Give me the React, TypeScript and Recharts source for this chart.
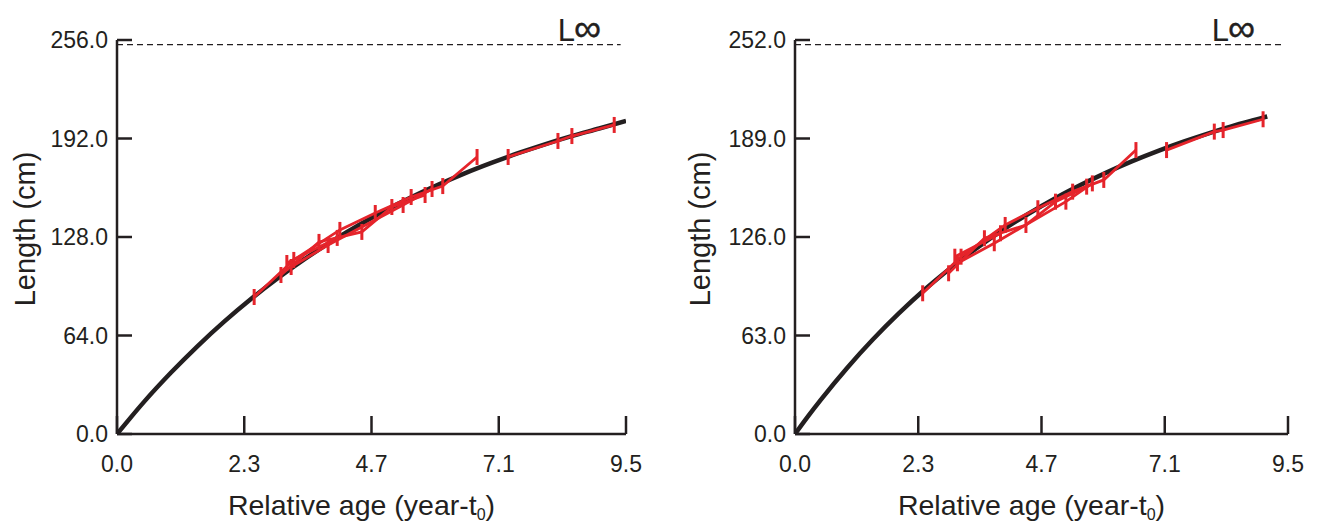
import { LineChart, Line, XAxis, YAxis, ReferenceLine } from 'recharts';

const INK = '#231f20';
const RED = '#e5242b';
const FONT = '"Liberation Sans", Arial, sans-serif';

// shared x axis
const xTicks = [0, 2.375, 4.75, 7.125, 9.5];
const xTickLabels = ['0.0', '2.3', '4.7', '7.1', '9.5'];

// left panel
const leftYTicks = [0, 64, 128, 192, 256];
const leftLinf = 253;
const leftCurve = [
  { t: 0, L: 0 }, { t: 0.25, L: 10.5 }, { t: 0.5, L: 20.7 }, { t: 1, L: 39.6 },
  { t: 1.5, L: 57.0 }, { t: 2, L: 73.0 }, { t: 2.5, L: 87.7 }, { t: 3, L: 101.2 },
  { t: 3.5, L: 113.6 }, { t: 4, L: 125.0 }, { t: 4.5, L: 135.5 }, { t: 5, L: 145.1 },
  { t: 5.5, L: 153.9 }, { t: 6, L: 162.0 }, { t: 6.5, L: 169.5 }, { t: 7, L: 176.3 },
  { t: 7.5, L: 182.6 }, { t: 8, L: 188.4 }, { t: 8.5, L: 193.7 }, { t: 9, L: 198.5 },
  { t: 9.5, L: 203.5 },
];
const leftFish1 = [
  { t: 2.56, L: 89.0 }, { t: 3.3, L: 113.1 }, { t: 4.16, L: 132.6 }, { t: 4.82, L: 143.6 },
  { t: 5.49, L: 154.0 }, { t: 6.08, L: 161.1 }, { t: 6.72, L: 180.0 },
];
const leftFish2 = [
  { t: 3.06, L: 103.3 }, { t: 3.77, L: 124.8 }, { t: 4.57, L: 131.3 }, { t: 5.13, L: 147.5 },
  { t: 5.75, L: 155.3 },
];
const leftFish3 = [
  { t: 3.25, L: 108.5 }, { t: 3.94, L: 122.8 }, { t: 5.34, L: 148.8 }, { t: 5.88, L: 159.2 },
];
const leftFish4 = [{ t: 3.17, L: 111.1 }, { t: 4.11, L: 127.4 }];
const leftFish5 = [
  { t: 7.3, L: 180.0 }, { t: 8.23, L: 190.4 }, { t: 8.49, L: 193.6 }, { t: 9.28, L: 200.8 },
];

// right panel
const rightYTicks = [0, 63, 126, 189, 252];
const rightLinf = 249;
const rightCurve = [
  { t: 0, L: 0 }, { t: 0.25, L: 11.3 }, { t: 0.5, L: 22.0 }, { t: 1, L: 42.1 },
  { t: 1.5, L: 60.4 }, { t: 2, L: 77.1 }, { t: 2.5, L: 92.4 }, { t: 3, L: 106.2 },
  { t: 3.5, L: 118.9 }, { t: 4, L: 130.4 }, { t: 4.5, L: 140.9 }, { t: 5, L: 150.5 },
  { t: 5.5, L: 159.2 }, { t: 6, L: 167.2 }, { t: 6.5, L: 174.5 }, { t: 7, L: 181.1 },
  { t: 7.5, L: 187.1 }, { t: 8, L: 192.6 }, { t: 8.5, L: 197.7 }, { t: 9, L: 202.2 },
  { t: 9.1, L: 203.1 },
];
const rightFish1 = [
  { t: 2.46, L: 90.0 }, { t: 3.2, L: 113.4 }, { t: 4.05, L: 133.7 }, { t: 4.68, L: 144.4 },
  { t: 5.35, L: 155.0 }, { t: 5.95, L: 162.5 }, { t: 6.57, L: 181.6 },
];
const rightFish2 = [
  { t: 2.96, L: 102.8 }, { t: 3.65, L: 125.2 }, { t: 4.45, L: 133.7 }, { t: 5.02, L: 148.6 },
  { t: 5.62, L: 158.2 },
];
const rightFish3 = [
  { t: 3.13, L: 109.2 }, { t: 3.84, L: 122.0 }, { t: 5.22, L: 148.6 }, { t: 5.73, L: 160.3 },
];
const rightFish4 = [{ t: 3.08, L: 113.4 }, { t: 3.96, L: 128.4 }];
const rightFish5 = [
  { t: 7.16, L: 181.6 }, { t: 8.08, L: 193.4 }, { t: 8.25, L: 194.4 }, { t: 9.02, L: 201.3 },
];

function RedTick(props: any) {
  const { cx, cy } = props;
  if (cx == null || cy == null) return null;
  return <line x1={cx} x2={cx} y1={cy - 8} y2={cy + 8} stroke={RED} strokeWidth={3} />;
}

function XTitle({ viewBox }: any) {
  const x = viewBox.x + viewBox.width / 2 - 10;
  return (
    <text x={x} y={viewBox.y + 81} textAnchor="middle" fontFamily={FONT} fontSize={28.5} fill={INK}>
      Relative age (year-t<tspan fontSize={16} dy={5}>0</tspan>
      <tspan dy={-5}>)</tspan>
    </text>
  );
}

function YTitle({ viewBox, titleX }: any) {
  const x = viewBox.x + titleX;
  const y = 229;
  return (
    <text x={x} y={y} transform={`rotate(-90, ${x}, ${y})`} textAnchor="middle"
      dominantBaseline="central" fontFamily={FONT} fontSize={29} fill={INK}>
      Length (cm)
    </text>
  );
}

function LinfLabel({ viewBox, back }: any) {
  const x = viewBox.x + viewBox.width - back;
  return (
    <text x={x} y={viewBox.y - 4} fontFamily={FONT} fill={INK}>
      <tspan fontSize={31}>L</tspan>
      <tspan fontSize={38} dx={-1} stroke={INK} strokeWidth={0.4}>∞</tspan>
    </text>
  );
}

function GrowthPanel({ curve, fish, yTicks, linf, yWidth, rightMargin, titleX, linfBack }: any) {
  const yMax = yTicks[yTicks.length - 1];
  return (
    <LineChart width={660} height={522} margin={{ top: 40, right: rightMargin, bottom: 0, left: 0 }}>
      <XAxis
        type="number"
        dataKey="t"
        domain={[0, 9.5]}
        ticks={xTicks}
        interval={0}
        allowDataOverflow
        tickFormatter={(v: number) => xTickLabels[xTicks.indexOf(v)]}
        height={88}
        axisLine={{ stroke: INK, strokeWidth: 2.5 }}
        tickLine={{ stroke: INK, strokeWidth: 2.5 }}
        tickSize={-18}
        tickMargin={40}
        tick={{ fill: INK, fontSize: 23, fontFamily: FONT }}
        label={<XTitle />}
      />
      <YAxis
        type="number"
        domain={[0, yMax]}
        ticks={yTicks}
        interval={0}
        allowDataOverflow
        tickFormatter={(v: number) => v.toFixed(1)}
        width={yWidth}
        axisLine={{ stroke: INK, strokeWidth: 2.5 }}
        tickLine={{ stroke: INK, strokeWidth: 2.5 }}
        tickSize={-15}
        tickMargin={24}
        tick={{ fill: INK, fontSize: 23, fontFamily: FONT }}
        label={<YTitle titleX={titleX} />}
      />
      <ReferenceLine
        segment={[{ x: 0, y: linf }, { x: 9.4, y: linf }]}
        stroke={INK}
        strokeWidth={1.2}
        strokeDasharray="6 4"
        label={<LinfLabel back={linfBack} />}
      />
      <Line data={curve} dataKey="L" type="monotone" stroke={INK} strokeWidth={4.5}
        dot={false} activeDot={false} isAnimationActive={false} />
      {fish.map((f: any, i: number) => (
        <Line key={i} name={`fish${i + 1}`} data={f} dataKey="L" type="linear" stroke={RED}
          strokeWidth={2.8} dot={<RedTick />} activeDot={false} isAnimationActive={false} />
      ))}
    </LineChart>
  );
}

export default function App() {
  return (
    <div style={{ position: 'absolute', left: 0, top: 0, width: 1320, height: 522, display: 'flex', background: '#fff' }}>
      <GrowthPanel
        curve={leftCurve}
        fish={[leftFish1, leftFish2, leftFish3, leftFish4, leftFish5]}
        yTicks={leftYTicks}
        linf={leftLinf}
        yWidth={117}
        rightMargin={34}
        titleX={25}
        linfBack={63}
      />
      <GrowthPanel
        curve={rightCurve}
        fish={[rightFish1, rightFish2, rightFish3, rightFish4, rightFish5]}
        yTicks={rightYTicks}
        linf={rightLinf}
        yWidth={135}
        rightMargin={32}
        titleX={40}
        linfBack={71}
      />
    </div>
  );
}
